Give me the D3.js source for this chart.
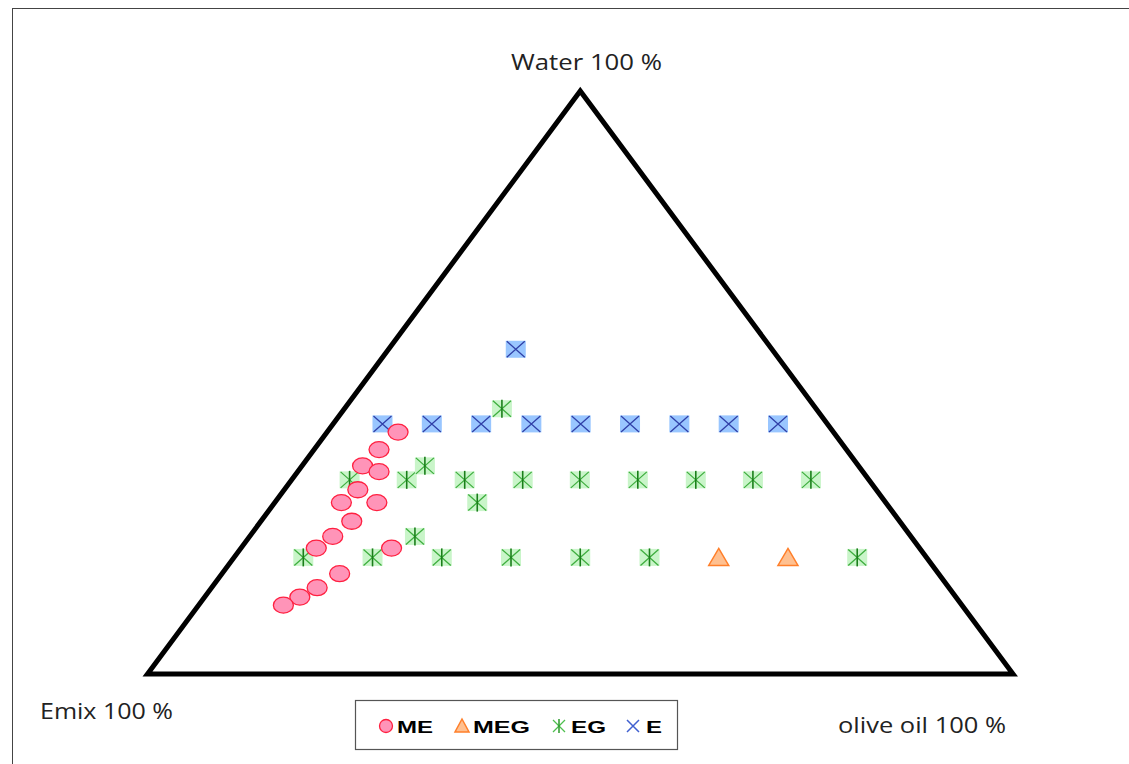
<!DOCTYPE html>
<html><head><meta charset="utf-8">
<script src="https://cdn.jsdelivr.net/npm/d3@7"></script>
<style>body{margin:0;background:#fff}svg{display:block}</style>
</head><body>
<script>
// Ternary compositions in % : water, olive oil (Emix = 100 - water - oil)
const meWater = [41.5,38.5,35.7,34.7,31.6,29.4,29.4,26.2,23.6,21.6,21.6,17.2,14.8,13.2,11.8];
const meOil   = [ 8.2, 7.5, 7.0, 9.4, 8.5, 7.7,11.8,10.5, 9.6, 8.7,17.4,13.6,12.2,11.0, 9.8];
const megWater = [20,20];
const megOil   = [56,64];
const egWater = [20,20,20,20,20,20,20, 33.3,33.3,33.3,33.3,33.3,33.3,33.3,33.3,33.3, 45.5,35.7,29.4,23.6];
const egOil   = [ 8,16,24,32,40,48,72, 6.7,13.3,20,26.7,33.3,40,46.7,53.3,60, 18.2,14.2,23.4,19.1];
const eWater = [42.9,42.9,42.9,42.9,42.9,42.9,42.9,42.9,42.9, 55.7];
const eOil   = [ 5.7,11.4,17.1,22.9,28.6,34.3,40.0,45.7,51.4, 14.7];
const seriesNames = ["ME","MEG","EG","E"];
const vertexLabels = ["Water 100 %","Emix 100 %","olive oil 100 %"];

const W = 1129, H = 764;
const svg = d3.select("body").append("svg").attr("width", W).attr("height", H);

// frame
svg.append("rect").attr("x",12.5).attr("y",8.5).attr("width",W).attr("height",H)
  .attr("fill","none").attr("stroke","#444").attr("stroke-width",1);

const yS = d3.scaleLinear().domain([0,100]).range([674,91]);     // water
const xS = d3.scaleLinear().domain([0,100]).range([147.5,1013]); // oil + water/2
const px = (w,o) => xS(o + w/2);
const py = (w) => yS(w);

// triangle
svg.append("path")
  .attr("d", d3.line()([[px(100,0),py(100)],[px(0,0),py(0)],[px(0,100),py(0)]]) + "Z")
  .attr("fill","none").attr("stroke","#000").attr("stroke-width",5).attr("stroke-linejoin","miter");

const font = "'Open Sans', 'Noto Sans', sans-serif";
[[511,70,151],[40,719,133],[838,733,168]].forEach((p,i)=>{
  svg.append("text").attr("x",p[0]).attr("y",p[1])
    .attr("font-family",font).attr("font-size",21).attr("fill","#222")
    .attr("textLength",p[2]).attr("lengthAdjust","spacingAndGlyphs").text(vertexLabels[i]);
});

// marker drawers
function drawME(g){ g.append("ellipse").attr("rx",10).attr("ry",8).attr("fill","#ff94b8").attr("stroke","#ff2040").attr("stroke-width",1.3); }
function drawMEG(g){ g.append("path").attr("d","M0,-9L10,8L-10,8Z").attr("fill","#ffc090").attr("stroke","#ff7f2a").attr("stroke-width",1.5); }
function drawEG(g){
  g.append("rect").attr("x",-10).attr("y",-8.5).attr("width",20).attr("height",17).attr("fill","#c9f5c9");
  g.append("path").attr("d","M-9,-8L9,8M9,-8L-9,8").attr("stroke","#3fae3f").attr("stroke-width",1.3);
  g.append("path").attr("d","M0,-9L0,9").attr("stroke","#1a7f1a").attr("stroke-width",1.6);
}
function drawE(g){
  g.append("rect").attr("x",-10).attr("y",-8.5).attr("width",20).attr("height",17).attr("fill","#99c6ff");
  g.append("path").attr("d","M-9,-8L9,8M9,-8L-9,8").attr("stroke","#3040a8").attr("stroke-width",1.3);
}

function plot(ws, os, drawer){
  ws.forEach((w,i)=>{
    const g = svg.append("g").attr("transform",`translate(${px(w,os[i])},${py(w)})`);
    drawer(g);
  });
}
plot(eWater, eOil, drawE);
plot(egWater, egOil, drawEG);
plot(megWater, megOil, drawMEG);
plot(meWater, meOil, drawME);

// legend
const lg = svg.append("g");
lg.append("rect").attr("x",355.5).attr("y",700.5).attr("width",322).attr("height",49)
  .attr("fill","#fff").attr("stroke","#555").attr("stroke-width",1.2);
const lf = "'Liberation Sans', Arial, sans-serif";
const items = [
  {x:386, tx:397, tl:36, draw:g=>g.append("circle").attr("r",6.5).attr("fill","#ff94b8").attr("stroke","#ff2040").attr("stroke-width",1.3)},
  {x:462, tx:473, tl:57, draw:g=>g.append("path").attr("d","M0,-7L7,6L-7,6Z").attr("fill","#ffc090").attr("stroke","#ff7f2a").attr("stroke-width",1.5)},
  {x:559, tx:571, tl:35, draw:g=>{g.append("path").attr("d","M-6,-6L6,6M6,-6L-6,6").attr("stroke","#4fbf4f").attr("stroke-width",1.3);g.append("path").attr("d","M0,-7L0,7").attr("stroke","#2a9a2a").attr("stroke-width",1.5);}},
  {x:633, tx:646, tl:16, draw:g=>g.append("path").attr("d","M-6,-6L6,6M6,-6L-6,6").attr("stroke","#4060d0").attr("stroke-width",1.5)}
];
items.forEach((it,i)=>{
  const g = lg.append("g").attr("transform",`translate(${it.x},726)`);
  it.draw(g);
  lg.append("text").attr("x",it.tx).attr("y",733).attr("font-family",lf).attr("font-size",17)
    .attr("font-weight","bold").attr("fill","#000")
    .attr("textLength",it.tl).attr("lengthAdjust","spacingAndGlyphs").text(seriesNames[i]);
});
</script>
</body></html>
